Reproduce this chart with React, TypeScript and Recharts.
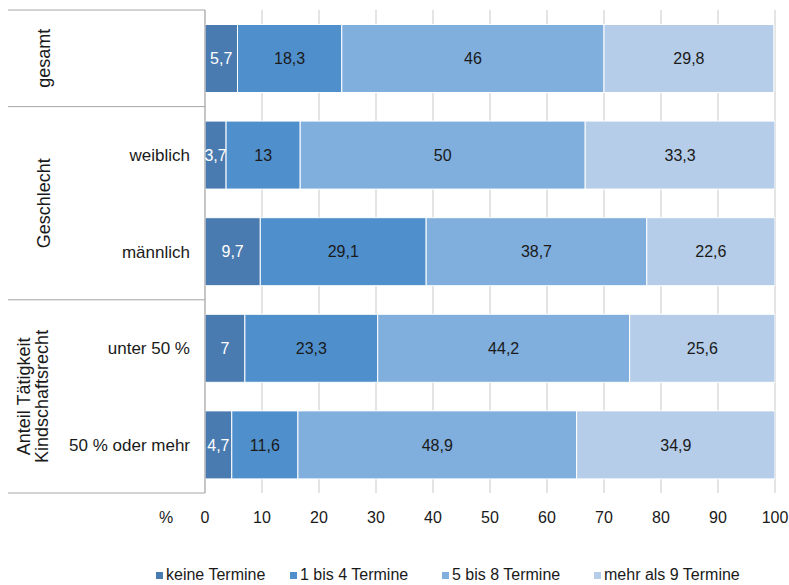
import React from 'react';
import { BarChart, Bar, XAxis, YAxis, CartesianGrid, Legend, LabelList } from 'recharts';

const categories = ['gesamt', 'weiblich', 'männlich', 'unter 50 %', '50 % oder mehr'];
const categoryLabels = ['', 'weiblich', 'männlich', 'unter 50 %', '50 % oder mehr'];
const groupNames = [['gesamt'], ['Geschlecht'], ['Anteil Tätigkeit', 'Kindschaftsrecht']];
const groupSizes = [1, 2, 2];

const keineTermine = [5.7, 3.7, 9.7, 7, 4.7];
const einsBisVier = [18.3, 13, 29.1, 23.3, 11.6];
const fuenfBisAcht = [46, 50, 38.7, 44.2, 48.9];
const mehrAlsNeun = [29.8, 33.3, 22.6, 25.6, 34.9];

const xTicks = [0, 10, 20, 30, 40, 50, 60, 70, 80, 90, 100];

const seriesNames = ['keine Termine', '1 bis 4 Termine', '5 bis 8 Termine', 'mehr als 9 Termine'];
const seriesColors = ['#4a7bb0', '#4f8fcc', '#80aedd', '#b5cde8'];
const legendWidths = [134, 152, 152, 180];

const data = categories.map((cat, i) => ({
  cat,
  keine: keineTermine[i],
  eins: einsBisVier[i],
  fuenf: fuenfBisAcht[i],
  mehr: mehrAlsNeun[i],
}));

const FONT = '"Liberation Sans", Arial, sans-serif';
const TOP = 10;
const BOTTOM_Y = 493;
const BAND = (BOTTOM_Y - TOP) / categories.length;
const AXIS_X = 205;

const fmt = (v: any) => String(v).replace('.', ',');

// first index of each group
const groupStarts = groupSizes.map((_, g) => groupSizes.slice(0, g).reduce((a, b) => a + b, 0));

const CategoryTick = (props: any) => {
  const { y, index } = props;
  const g = groupStarts.indexOf(index);
  const lines = g >= 0 ? groupNames[g] : null;
  const top = y - BAND / 2;
  return (
    <g>
      <text x={190} y={y} dy={6} textAnchor="end" fontSize={17} fill="#1a1a1a" fontFamily={FONT}>
        {categoryLabels[index]}
      </text>
      {g >= 0 && <line x1={8} x2={AXIS_X} y1={top} y2={top} stroke="#a6a6a6" />}
      {index === categories.length - 1 && (
        <line x1={8} x2={AXIS_X} y1={y + BAND / 2} y2={y + BAND / 2} stroke="#a6a6a6" />
      )}
      {lines && (() => {
        const cy = top + (groupSizes[g] * BAND) / 2;
        const cx = lines.length > 1 ? 33 : 44;
        return (
          <text
            transform={`translate(${cx},${cy}) rotate(-90)`}
            textAnchor="middle"
            fontSize={18}
            fill="#1a1a1a"
            fontFamily={FONT}
          >
            {lines.map((l, k) => (
              <tspan key={k} x={0} y={(k - (lines.length - 1) / 2) * 18 + 6}>{l}</tspan>
            ))}
          </text>
        );
      })()}
    </g>
  );
};

const ValueTick = (props: any) => {
  const { x, y, payload, index } = props;
  return (
    <g>
      {index === 0 && (
        <text x={166} y={y} dy={6} textAnchor="middle" fontSize={16} fill="#1a1a1a" fontFamily={FONT}>
          %
        </text>
      )}
      <text x={x} y={y} dy={6} textAnchor="middle" fontSize={16} fill="#1a1a1a" fontFamily={FONT}>
        {payload.value}
      </text>
    </g>
  );
};

const renderLegend = () => (
  <div style={{ display: 'flex', fontFamily: FONT, fontSize: 16, color: '#1a1a1a', paddingLeft: 156, marginTop: 27 }}>
    {seriesNames.map((n, i) => (
      <span key={n} style={{ display: 'flex', alignItems: 'center', width: legendWidths[i], whiteSpace: 'nowrap' }}>
        <span style={{ width: 7, height: 7, background: seriesColors[i], marginRight: 3, display: 'inline-block' }} />
        {n}
      </span>
    ))}
  </div>
);

const keys = ['keine', 'eins', 'fuenf', 'mehr'];

export default function App() {
  return (
    <div style={{ position: 'absolute', left: 0, top: 0, background: '#fff' }}>
      <BarChart
        width={789}
        height={585}
        data={data}
        layout="vertical"
        margin={{ top: TOP, right: 14, left: 0, bottom: 10 }}
        barCategoryGap="15%"
      >
        <CartesianGrid horizontal={false} stroke="#c9c9c9" />
        <XAxis
          type="number"
          domain={[0, 100]}
          ticks={xTicks}
          allowDataOverflow
          axisLine={false}
          tickLine={false}
          height={46}
          tick={(p: any) => {
            const { y, ...rest } = p;
            return <ValueTick {...rest} y={BOTTOM_Y + 24} />;
          }}
        />
        <YAxis
          type="category"
          dataKey="cat"
          width={AXIS_X}
          axisLine={{ stroke: '#a6a6a6' }}
          tickLine={false}
          tick={<CategoryTick />}
        />
        <Legend verticalAlign="bottom" height={36} content={renderLegend} />
        {keys.map((k, i) => (
          <Bar
            key={k}
            dataKey={k}
            name={seriesNames[i]}
            stackId="a"
            fill={seriesColors[i]}
            stroke="#ffffff"
            strokeWidth={1}
            isAnimationActive={false}
          >
            <LabelList
              dataKey={k}
              position="center"
              formatter={fmt}
              fill={i === 0 ? '#ffffff' : '#1a1a1a'}
              fontSize={16}
              fontFamily={FONT}
            />
          </Bar>
        ))}
      </BarChart>
    </div>
  );
}
